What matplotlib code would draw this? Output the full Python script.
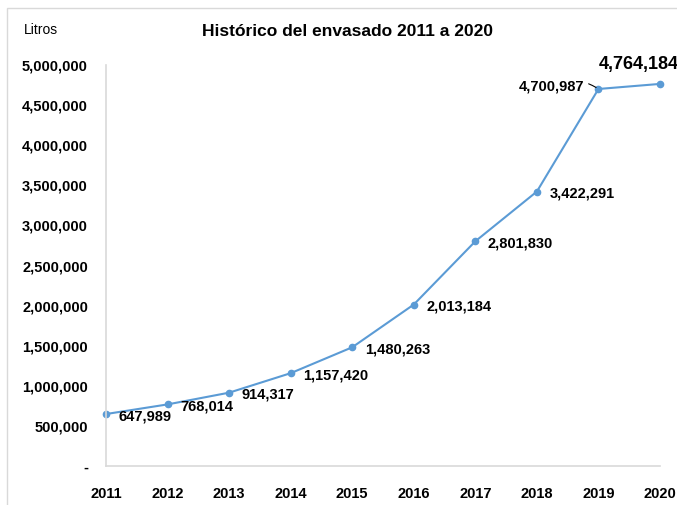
import numpy as np
import matplotlib
matplotlib.use("Agg")
import matplotlib.pyplot as plt
from matplotlib.ticker import FuncFormatter, MultipleLocator
from matplotlib.patches import Rectangle

anios = [2011, 2012, 2013, 2014, 2015, 2016, 2017, 2018, 2019, 2020]
litros = [647989, 768014, 914317, 1157420, 1480263, 2013184, 2801830, 3422291, 4700987, 4764184]
titulo = "Histórico del envasado 2011 a 2020"
unidad = "Litros"

plt.rcParams['font.family'] = ['Liberation Sans', 'DejaVu Sans']
azul = '#5B9BD5'

fig = plt.figure(figsize=(6.77, 5.05), dpi=100)
ax = fig.add_axes([106/677, 1-466/505, (660-106)/677, (466-65)/505])

# marco gris del grafico
fig.patches.append(Rectangle((7/677, -0.1), 1.2, 1-8/505+0.1, transform=fig.transFigure,
                             fill=False, edgecolor='#D9D9D9', lw=1))

ax.plot(anios, litros, color=azul, lw=1.5, marker='o', markersize=4.5, clip_on=False)

ax.set_xlim(2011, 2020)
ax.set_ylim(0, 5000000)
ax.yaxis.set_major_locator(MultipleLocator(500000))
ax.yaxis.set_major_formatter(FuncFormatter(lambda v, p: '-' if v == 0 else '{:,.0f}'.format(v)))
ax.set_xticks(anios)
ax.tick_params(length=0, labelsize=10.5)
ax.tick_params(axis='y', pad=13)
ax.tick_params(axis='x', pad=15)
for t in ax.get_xticklabels() + ax.get_yticklabels():
    t.set_fontweight('bold')
for s in ['top', 'right']:
    ax.spines[s].set_visible(False)
for s in ['left', 'bottom']:
    ax.spines[s].set_color('#D9D9D9')
    ax.spines[s].set_linewidth(1.2)

# etiquetas de datos
for i, (a, v) in enumerate(zip(anios, litros)):
    txt = '{:,.0f}'.format(v)
    if i < 8:
        ax.annotate(txt, (a, v), xytext=(9, -1.5), textcoords='offset points',
                    ha='left', va='center', fontsize=10.5, fontweight='bold')
    elif i == 8:
        ax.annotate(txt, (a, v), xytext=(-10, 1.5), textcoords='offset points',
                    ha='right', va='center', fontsize=10.5, fontweight='bold',
                    arrowprops=dict(arrowstyle='-', color='black', lw=0.8,
                                    shrinkA=1, shrinkB=2,
                                    connectionstyle='arc3,rad=-0.3'))
    else:
        ax.annotate(txt, (a, v), xytext=(-44, 14), textcoords='offset points',
                    ha='left', va='center', fontsize=13, fontweight='bold',
                    annotation_clip=False)

fig.text(348/677, 1-32/505, titulo, ha='center', va='center', fontsize=12.5, fontweight='bold')
fig.text(24/677, 1-30/505, unidad, ha='left', va='center', fontsize=10)

fig.savefig('out.png', dpi=100)
